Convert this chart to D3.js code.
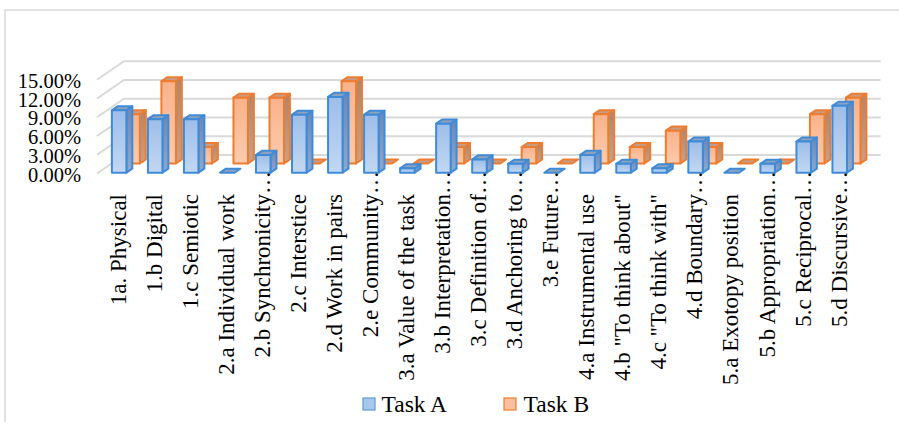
<!DOCTYPE html>
<html>
<head>
<meta charset="utf-8">
<script src="https://cdn.jsdelivr.net/npm/d3@7"></script>
<style>
  html, body { margin: 0; padding: 0; background: #ffffff; }
  svg { display: block; }
  text { font-family: "Liberation Serif", "Times New Roman", serif; fill: #000; }
</style>
</head>
<body>
<svg id="chart" width="899" height="422"></svg>
<script>
// Share of coded occurrences per category, in percent
const categories = [
  "1a. Physical", "1.b Digital", "1.c Semiotic", "2.a Individual work",
  "2.b Synchronicity…", "2.c Interstice", "2.d Work in pairs", "2.e Community…",
  "3.a Value of the task", "3.b Interpretation…", "3.c Definition of…",
  "3.d Anchoring to…", "3.e Future…", "4.a Instrumental use",
  "4.b \"To think about\"", "4.c \"To think with\"", "4.d Boundary…",
  "5.a Exotopy position", "5.b Appropriation…", "5.c Reciprocal…", "5.d Discursive…"
];
const taskA = [10.00, 8.57, 8.57, 0, 2.86, 9.29, 12.14, 9.29, 0.71, 7.86, 2.14,
               1.43, 0, 2.86, 1.43, 0.71, 5.00, 0, 1.43, 5.00, 10.71];
const taskB = [7.89, 13.16, 2.63, 10.53, 10.53, 0, 13.16, 0, 0, 2.63, 0,
               2.63, 0, 7.89, 2.63, 5.26, 2.63, 0, 0, 7.89, 10.53];
const seriesNames = ["Task A", "Task B"];
const yTicks = [0, 3, 6, 9, 12, 15];

const svg = d3.select("#chart");

// Chart frame (open at the right and bottom edges)
svg.append("rect")
  .attr("x", 5).attr("y", 10).attr("width", 1000).attr("height", 1000)
  .attr("fill", "none").attr("stroke", "#d9d9d9").attr("stroke-width", 1.5);

// Front-plane scales plus an oblique depth offset
const x = d3.scaleBand().domain(categories).range([97, 853.6]);
const y = d3.scaleLinear().domain([0, 15]).range([173.5, 79.75]);
const depthX = d3.scaleLinear().domain([0, 1]).range([0, 27]);
const depthY = d3.scaleLinear().domain([0, 1]).range([0, -18.5]);
const P = (px, v, z) => [px + depthX(z), y(v) + depthY(z)];

// Gridlines on the side and back walls
const grid = svg.append("g");
yTicks.forEach(t => {
  const pts = [P(x.range()[0], t, 0), P(x.range()[0], t, 1), P(x.range()[1], t, 1)];
  grid.append("polyline")
    .attr("points", pts.map(p => p.join(",")).join(" "))
    .attr("fill", "none").attr("stroke", "#d9d9d9").attr("stroke-width", 2);
});

// Value axis labels
svg.append("g").selectAll("text").data(yTicks).join("text")
  .attr("x", 81).attr("y", d => y(d) + 8)
  .attr("text-anchor", "end").attr("font-size", 20.5)
  .text(d => d3.format(".2f")(d) + "%");

// Gradients for bar faces
const defs = svg.append("defs");
function grad(id, top, bottom) {
  const g = defs.append("linearGradient").attr("id", id)
    .attr("x1", 0).attr("y1", 0).attr("x2", 0).attr("y2", 1);
  g.append("stop").attr("offset", "0%").attr("stop-color", top);
  g.append("stop").attr("offset", "100%").attr("stop-color", bottom);
}
grad("gA", "#9dbde9", "#c2d8f3");
grad("gB", "#f9b28a", "#fdcbad");
grad("gAs", "#6a88b8", "#8fa8cf");
grad("gBs", "#ad8670", "#c9a18a");

const styles = {
  A: { front: "url(#gA)", side: "url(#gAs)", top: "#8fa1bb", stroke: "#3f8bd8", z0: 0.04, z1: 0.26 },
  B: { front: "url(#gB)", side: "url(#gBs)", top: "#c49d88", stroke: "#ee7d30", z0: 0.54, z1: 0.76 }
};
const barOffset = 13.8, barWidth = 14.5;

function drawSeries(values, st) {
  const g = svg.append("g");
  categories.forEach((c, i) => {
    const v = values[i];
    const xl = x(c) + barOffset, xr = xl + barWidth;
    const poly = (pts, fill) => g.append("polygon")
      .attr("points", pts.map(p => p.join(",")).join(" "))
      .attr("fill", fill).attr("stroke", st.stroke)
      .attr("stroke-width", 2).attr("stroke-linejoin", "round");
    if (v > 0) {
      poly([P(xr, 0, st.z0), P(xr, 0, st.z1), P(xr, v, st.z1), P(xr, v, st.z0)], st.side);
    }
    poly([P(xl, v, st.z0), P(xr, v, st.z0), P(xr, v, st.z1), P(xl, v, st.z1)], st.top);
    if (v > 0) {
      poly([P(xl, 0, st.z0), P(xr, 0, st.z0), P(xr, v, st.z0), P(xl, v, st.z0)], st.front);
    }
  });
}
// Back row first, front row on top
drawSeries(taskB, styles.B);
drawSeries(taskA, styles.A);

// Category labels, rotated; truncated labels let the ellipsis run past the axis
const xLabels = svg.append("g");
const labelSize = 23;
const probe = svg.append("text").attr("font-size", labelSize).text("…");
const ellipsisW = probe.node().getComputedTextLength();
probe.remove();
categories.forEach(c => {
  const bx = x(c) + 29, by = 194;
  xLabels.append("text")
    .attr("transform", `translate(${bx},${by}) rotate(-90)`)
    .attr("text-anchor", "end")
    .attr("dx", c.endsWith("…") ? ellipsisW : 0)
    .attr("font-size", labelSize)
    .text(c);
});

// Legend
const legend = svg.append("g");
[["A", 363, 381.5], ["B", 504, 523.5]].forEach(([k, sx, tx], i) => {
  legend.append("rect")
    .attr("x", sx).attr("y", 398).attr("width", 12).attr("height", 12)
    .attr("fill", k === "A" ? "#a9c6ee" : "#fbbf9d")
    .attr("stroke", k === "A" ? "#5b9bd5" : "#ed7d31").attr("stroke-width", 1.2);
  legend.append("text")
    .attr("x", tx).attr("y", 411.5).attr("font-size", 23.5)
    .text(seriesNames[i]);
});
</script>
</body>
</html>
